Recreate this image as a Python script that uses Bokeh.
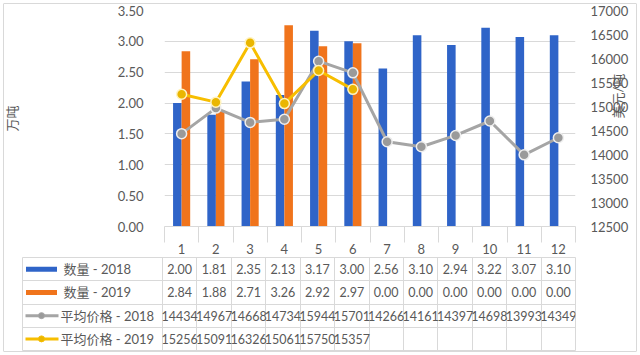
import math
from bokeh.plotting import figure
from bokeh.models import (Range1d, LinearAxis, FixedTicker, NumeralTickFormatter,
                          ColumnDataSource, Grid)
from bokeh.layouts import column
from bokeh.transform import dodge
from bokeh.embed import file_html
from bokeh.resources import INLINE
from bokeh.core.properties import value

# ---------------- data ----------------
months = [1, 2, 3, 4, 5, 6, 7, 8, 9, 10, 11, 12]
qty_2018 = [2.00, 1.81, 2.35, 2.13, 3.17, 3.00, 2.56, 3.10, 2.94, 3.22, 3.07, 3.10]
qty_2019 = [2.84, 1.88, 2.71, 3.26, 2.92, 2.97, 0.00, 0.00, 0.00, 0.00, 0.00, 0.00]
price_2018 = [14434, 14967, 14668, 14734, 15944, 15701, 14266, 14161, 14397, 14698, 13993, 14349]
price_months_2019 = [1, 2, 3, 4, 5, 6]
price_2019 = [15256, 15091, 16326, 15061, 15750, 15357]
series_names = ["数量 - 2018", "数量 - 2019", "平均价格 - 2018", "平均价格 - 2019"]
qty_ticks = [0.0, 0.5, 1.0, 1.5, 2.0, 2.5, 3.0, 3.5]
price_ticks = [12500, 13000, 13500, 14000, 14500, 15000, 15500, 16000, 16500, 17000]
left_title = "万吨"
right_title = "美元/吨"

# ---------------- style ----------------
W, H = 640, 355
FONT = "Lato, 'Noto Sans CJK SC', sans-serif"
TXT = "#595959"
GRID = "#d9d9d9"
BLUE = "#2f64c8"
ORANGE = "#f0741c"
GRAY = "#a5a5a5"
GOLD = "#f7be00"

FR_L, FR_R = 162, 575           # chart frame left/right (px)
FR_T, FR_B = 10, 240            # chart frame top/bottom (px)
PX = (FR_R - FR_L) / 12.0       # px per category
TAB_L = 22                      # table left edge (px)
HA = 256                        # chart figure height

# ---------------- chart figure ----------------
pa = figure(width=W, height=HA, x_range=Range1d(0.5, 12.5), y_range=Range1d(0, 3.5),
            output_backend="svg", toolbar_location=None, frame_align=False,
            min_border_left=FR_L, min_border_right=W - FR_R, min_border_top=FR_T,
            min_border_bottom=HA - FR_B, outline_line_color=None,
            background_fill_color="white", border_fill_color=None)
pa.extra_y_ranges = {"price": Range1d(price_ticks[0], price_ticks[-1])}

src = ColumnDataSource(dict(m=months, q18=qty_2018, q19=qty_2019))
pa.vbar(x=dodge("m", -0.125, range=pa.x_range), top="q18", width=0.25, source=src,
        fill_color=BLUE, line_color=None)
pa.vbar(x=dodge("m", 0.125, range=pa.x_range), top="q19", width=0.25, source=src,
        fill_color=ORANGE, line_color=None)

pa.line(months, price_2018, y_range_name="price", line_width=3, line_color=GRAY,
        line_join="round")
pa.scatter(months, price_2018, y_range_name="price", size=10, fill_color="#9a9a9a",
           line_color="#eeeeee", line_width=1.5)
pa.line(price_months_2019, price_2019, y_range_name="price", line_width=3, line_color=GOLD,
        line_join="round")
pa.scatter(price_months_2019, price_2019, y_range_name="price", size=10, fill_color="#eab600",
           line_color="#fff3c0", line_width=1.5)

ya = pa.yaxis[0]
ya.ticker = FixedTicker(ticks=qty_ticks)
ya.formatter = NumeralTickFormatter(format="0.00")
ya.axis_line_color = None
ya.major_tick_line_color = None
ya.minor_tick_line_color = None
ya.major_label_standoff = 15
ya.major_label_text_font = FONT
ya.major_label_text_font_size = "13px"
ya.major_label_text_color = TXT
ya.axis_label = left_title
ya.axis_label_standoff = 95
ya.axis_label_text_font = FONT
ya.axis_label_text_font_size = "13px"
ya.axis_label_text_font_style = "normal"
ya.axis_label_text_color = TXT

ry = LinearAxis(y_range_name="price", ticker=FixedTicker(ticks=price_ticks),
                formatter=NumeralTickFormatter(format="0"))
ry.axis_line_color = None
ry.major_tick_line_color = None
ry.minor_tick_line_color = None
ry.major_label_standoff = 9
ry.major_label_text_font = FONT
ry.major_label_text_font_size = "13px"
ry.major_label_text_color = TXT
ry.axis_label = right_title
ry.axis_label_orientation = math.pi / 2
ry.axis_label_standoff = -13
ry.axis_label_text_font = FONT
ry.axis_label_text_font_size = "13px"
ry.axis_label_text_font_style = "normal"
ry.axis_label_text_color = TXT
pa.add_layout(ry, "right")

pa.ygrid.ticker = FixedTicker(ticks=qty_ticks)
pa.ygrid.grid_line_color = GRID
pa.xgrid.visible = False

xa = pa.xaxis[0]
xa.ticker = FixedTicker(ticks=months, minor_ticks=[m - 0.5 for m in months] + [12.5])
xa.axis_line_color = GRID
xa.major_tick_line_color = None
xa.major_tick_out = 0
xa.major_tick_in = 0
xa.minor_tick_line_color = GRID
xa.minor_tick_out = HA - FR_B
xa.minor_tick_in = 0
xa.major_label_standoff = 1
xa.major_label_text_font = FONT
xa.major_label_text_font_size = "13px"
xa.major_label_text_color = TXT

# ---------------- data table figure ----------------
HB = H - HA
x0_tab = 0.5 - (FR_L - TAB_L) / PX
pb = figure(width=W, height=HB, x_range=Range1d(x0_tab, 12.5), y_range=Range1d(4, 0),
            output_backend="svg", toolbar_location=None, frame_align=False,
            min_border_left=TAB_L, min_border_right=W - FR_R, min_border_top=1,
            min_border_bottom=5, x_axis_location=None, y_axis_location=None,
            outline_line_color=GRID, background_fill_color="white",
            border_fill_color=None)
pb.xgrid.visible = False
pb.ygrid.visible = False
pb.add_layout(Grid(dimension=0, ticker=FixedTicker(ticks=[m - 0.5 for m in months]),
                   grid_line_color=GRID))
pb.add_layout(Grid(dimension=1, ticker=FixedTicker(ticks=[1, 2, 3]), grid_line_color=GRID))

def tab_x(px):
    return x0_tab + (px - TAB_L) / PX

cell_x, cell_y, cell_t = [], [], []
rows = [[f"{v:.2f}" for v in qty_2018], [f"{v:.2f}" for v in qty_2019],
        [f"{v:d}" for v in price_2018], [f"{v:d}" for v in price_2019]]
row_months = [months, months, months, price_months_2019]
for r, (ms, texts) in enumerate(zip(row_months, rows)):
    for m, t in zip(ms, texts):
        cell_x.append(m)
        cell_y.append(r + 0.5)
        cell_t.append(t)
pb.text(x=cell_x, y=cell_y, text=cell_t, text_align="center", text_baseline="middle",
        text_font=value(FONT), text_font_size="12.5px", text_color=TXT)

# legend keys
pb.rect(x=[tab_x(41), tab_x(41)], y=[0.5, 1.5], width=31, height=5,
        width_units="screen", height_units="screen", fill_color=[BLUE, ORANGE],
        line_color=None)
for r, c, mc in [(2, GRAY, "#9a9a9a"), (3, GOLD, "#eab600")]:
    pb.segment(x0=[tab_x(25)], y0=[r + 0.5], x1=[tab_x(58)], y1=[r + 0.5],
               line_color=c, line_width=3)
    pb.scatter(x=[tab_x(41)], y=[r + 0.5], size=6, fill_color=mc, line_color=c,
               line_width=1)
pb.text(x=[tab_x(63), tab_x(63), tab_x(60), tab_x(60)], y=[0.5, 1.5, 2.5, 3.5],
        text=series_names, text_align="left", text_baseline="middle",
        text_font=value(FONT), text_font_size="13px", text_color=TXT)

layout = column(pa, pb, styles={"background-color": "white",
                                "outline": "1px solid #d9d9d9",
                                "outline-offset": "-4px",
                                "border-radius": "4px"})
open("out.html", "w").write(file_html(layout, INLINE))
